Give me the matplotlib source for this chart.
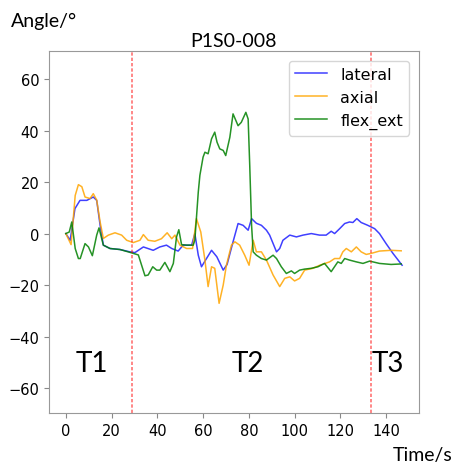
import matplotlib
matplotlib.use("Agg")
import matplotlib.pyplot as plt

# Neck angle traces for trial P1S0-008
lateral_t = [0, 1.9, 4, 6.2, 9.2, 12, 13.5, 15, 16.4, 19.3, 23.7, 28, 30.2, 33.9, 38.2, 41.1,
             44, 46.3, 49.1, 51.3, 55, 56.4, 57.9, 59.3, 61.5, 63.7, 66, 68.8, 70.5, 73.1, 75.3,
             77.5, 79.7, 81.2, 83.3, 85.5, 87.7, 89.1, 90.9, 92.1, 93.5, 94.9, 97.9, 100.8, 103.7,
             107.3, 110.9, 113.8, 116, 117.5, 119.7, 121.9, 124, 125.5, 127.2, 129.1, 132, 135,
             137.1, 140, 143, 147]
lateral = [0, -2.6, 9.7, 12.9, 12.9, 14.2, 12.9, 3.2, -4.5, -5.8, -6.2, -7.1, -7.4, -5.2, -6.5,
           -5.2, -4.5, -5.8, -6.8, -4.5, -4.5, 0, -8.4, -12.9, -9.7, -6.5, -9, -14.2, -12, -3.2,
           3.9, 3.2, 1.3, 5.8, 4, 3.2, 1.3, -0.6, -4.5, -7.1, -5.8, -2.6, -0.6, -1.3, -0.6, 0,
           -0.6, -0.6, 0.9, 0, 1.9, 3.9, 4.5, 4.3, 5.8, 4.3, 3.2, 1.9, 0, -3.9, -7.7, -12.3]

axial_t = [0, 2.3, 4.1, 5.5, 7, 8.4, 10.6, 12, 13.5, 15, 16.4, 18.6, 21.5, 24.4, 26.6, 29.5,
           32.4, 33.9, 36, 38.9, 41.8, 44.3, 46.3, 47.7, 49.9, 52.8, 55.4, 57.1, 59, 60.8, 62.2,
           63.7, 65.1, 67, 68.8, 70.2, 72.4, 73.9, 76, 78.2, 80.1, 81.9, 83.3, 85.5, 87.7, 90.6,
           93.5, 95.7, 97.9, 100, 102.2, 104.4, 108, 111, 115.3, 117.5, 119.7, 121.1, 122.6,
           124.8, 127, 129.1, 131.3, 133.5, 137.1, 142.2, 146.6]
axial = [0, -4.3, 14.8, 19, 18.2, 14.2, 13.6, 15.5, 13, 4.5, -1.9, -0.6, 0.3, -0.6, -2.6, -3.5,
         -2.6, -0.4, -2.6, -3, -2, 0.3, -2, -0.6, -4.5, -5.8, -5.8, 5.8, 0.6, -10.3, -20.6,
         -12.9, -13.5, -27.1, -20, -12.3, -4.5, -3.2, -4.5, -8.4, -12.3, -2.6, -7.1, -7.1,
         -10.3, -16.1, -20.6, -17.4, -16.8, -18.4, -17.4, -14.2, -13.5, -12.3, -11, -9.7, -9.7,
         -7.1, -5.8, -7.1, -5.2, -7.1, -8.1, -7.7, -6.8, -6.5, -6.7]

flex_t = [0, 1.5, 2.6, 4.1, 5.5, 6.3, 8.4, 9.9, 11.6, 13.5, 14.5, 16.4, 19.3, 23.7, 28, 31.7,
          34.6, 36, 38, 39.7, 41.1, 43.3, 45.5, 47, 48.4, 49.4, 50.6, 52.8, 55.7, 56.4, 57.9,
          58.6, 60, 60.8, 62.2, 63.7, 65.1, 66.1, 67.3, 68.8, 69.9, 71.7, 73.1, 75.3, 76.7,
          78.7, 79.7, 80.4, 81.2, 81.9, 83.3, 85.5, 87.7, 90.6, 92.1, 94.2, 96.4, 98.6, 100,
          102.2, 104.4, 107.3, 110.2, 113.1, 116, 118.9, 120.4, 121.9, 124, 127, 129.9, 132.8,
          137.1, 142.2, 146.6]
flex_ext = [0, 0.6, 4.5, -5.8, -9.7, -9.7, -3.9, -5.2, -8.6, -0.6, 2.2, -4.5, -5.8, -6.2, -7.3,
            -8.3, -16.4, -16.1, -12.9, -14.2, -14.2, -11.2, -14.8, -11.6, -1.3, 1.5, -4.3, -4.5,
            -4.5, -2.6, 16.1, 22.6, 29.7, 31.6, 31, 36.8, 39.4, 35.5, 32.9, 32.3, 30.3, 37.4,
            46.5, 41.9, 43.2, 47.1, 44.5, 26.4, 3.2, -7.1, -8.4, -9.7, -10.3, -8.4, -9.7, -12.9,
            -15.5, -14.5, -15.5, -14.2, -13.8, -13.5, -12.9, -11.6, -14.8, -11, -11.6, -9.7,
            -10.3, -11, -11.6, -10.7, -11.6, -12, -11.8]

# phase boundaries and labels
splits = [28.8, 133.2]
phase_names = ["T1", "T2", "T3"]
phase_x = [11.2, 79.4, 140.8]

fig = plt.figure(figsize=(4.55, 4.64), dpi=100)
ax = fig.add_axes([0.1077, 0.1078, 0.813, 0.780])

line_kw = dict(lw=1.1, solid_joinstyle="round")
ax.plot(lateral_t, lateral, color="blue", alpha=0.75, label="lateral", **line_kw)
ax.plot(axial_t, axial, color="orange", alpha=0.85, label="axial", **line_kw)
ax.plot(flex_t, flex_ext, color="green", alpha=0.85, label="flex_ext", **line_kw)

for s in splits:
    ax.axvline(s, color="red", ls="--", lw=1.2, alpha=0.55, dashes=(2, 1.2))

for name, x in zip(phase_names, phase_x):
    ax.text(x, -53.4, name, fontsize=20, family="Lato", ha="center", va="baseline")

ax.set_ylim(-69.7, 70.9)
ax.set_yticks([-60, -40, -20, 0, 20, 40, 60])
ax.set_xticks(range(0, 141, 20))
ax.tick_params(labelsize=10.5, color="#888888")
for sp in ax.spines.values():
    sp.set_color("#999999")

ax.set_title("P1S0-008", fontsize=14, family="Lato", pad=4)
ax.legend(loc="upper right", fontsize=11.5, borderaxespad=0.6)

fig.text(11 / 455, 1 - 27 / 464, "Angle/°", fontsize=14, family="Lato", va="baseline")
fig.text(393 / 455, 1 - 461 / 464, "Time/s", fontsize=14, family="Lato", va="baseline")

fig.savefig("out.png", dpi=100)
